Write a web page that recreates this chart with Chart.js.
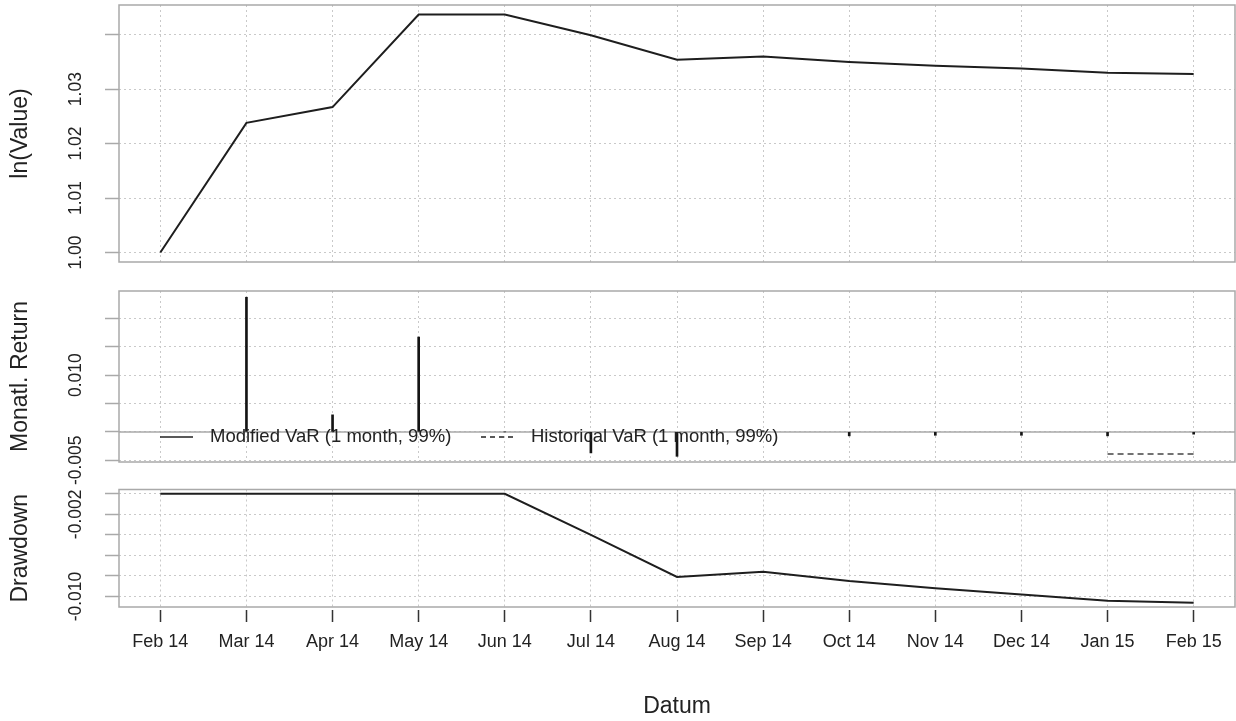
<!DOCTYPE html>
<html>
<head>
<meta charset="utf-8">
<script src="https://cdn.jsdelivr.net/npm/chart.js@4/dist/chart.umd.min.js"></script>
<style>
  html, body { margin: 0; padding: 0; background: #fff; }
  #wrap { position: relative; width: 1236px; height: 721px; overflow: hidden; background: #fff; }
  canvas { position: absolute; left: 0; }
</style>
</head>
<body>
<div id="wrap">
  <canvas id="cValue" width="1236" height="272" style="top:0px"></canvas>
  <canvas id="cReturn" width="1236" height="234" style="top:266px"></canvas>
  <canvas id="cDrawdown" width="1236" height="251" style="top:470px"></canvas>
</div>
<script>
// ---- data ----
const months = ['Feb 14', 'Mar 14', 'Apr 14', 'May 14', 'Jun 14', 'Jul 14', 'Aug 14',
                'Sep 14', 'Oct 14', 'Nov 14', 'Dec 14', 'Jan 15', 'Feb 15'];

const cumValue = [1.0000, 1.0238, 1.0267, 1.0437, 1.0437, 1.0399, 1.0354,
                  1.0360, 1.0350, 1.0343, 1.0338, 1.0330, 1.0328];

const monthlyReturn = [null, 0.0237, 0.0030, 0.0167, 0.0000, -0.0037, -0.0043,
                       0.0002, -0.0007, -0.0006, -0.0006, -0.0007, -0.0004];

const modifiedVaR = [null, null, null, null, null, null, null,
                     null, null, null, null, null, null];

const historicalVaR = [null, null, null, null, null, null, null,
                       null, null, null, null, -0.0039, -0.0039];

const drawdown = [0, 0, 0, 0, 0, -0.0040, -0.0081,
                  -0.0076, -0.0085, -0.0092, -0.0098, -0.0104, -0.0106];

const valueTicks = [1.00, 1.01, 1.02, 1.03, 1.04];
const valueTickLabels = ['1.00', '1.01', '1.02', '1.03', ''];

const returnTicks = [-0.005, 0.000, 0.005, 0.010, 0.015, 0.020];
const returnTickLabels = ['-0.005', '', '', '0.010', '', ''];

const drawdownTicks = [-0.010, -0.008, -0.006, -0.004, -0.002, 0.000];
const drawdownTickLabels = ['-0.010', '', '', '', '-0.002', ''];

// ---- styling ----
const FONT = '"Liberation Sans", Arial, Helvetica, sans-serif';
const TEXT = '#222222';
const FRAME = '#a9a9a9';
const GRID = '#c9c9c9';

const toPoints = arr => arr.map((v, i) => ({ x: i, y: v }));

function xAxis(withLabels) {
  return {
    type: 'linear',
    offset: false,
    min: -0.48,
    max: 12.48,
    afterBuildTicks: s => { s.ticks = months.map((m, i) => ({ value: i })); },
    afterFit: s => { s.height = withLabels ? 114 : 0; },
    grid: {
      offset: false,
      color: GRID, lineWidth: 1,
      drawTicks: withLabels, tickLength: 15,
      tickColor: '#333333', tickWidth: 1.5,
      tickBorderDash: [0, 3, 12, 1000]
    },
    border: { display: false, dash: [2, 3] },
    ticks: {
      display: withLabels, autoSkip: false, maxRotation: 0, minRotation: 0,
      padding: 9, color: TEXT,
      font: { family: FONT, size: 18 },
      callback: v => months[v]
    },
    title: withLabels
      ? { display: true, text: 'Datum', color: TEXT, font: { family: FONT, size: 23 }, padding: { top: 0, bottom: 1 } }
      : { display: false }
  };
}

function yAxis(min, max, ticks) {
  return {
    type: 'linear',
    min: min,
    max: max,
    afterBuildTicks: s => { s.ticks = ticks.map(v => ({ value: v })); },
    afterFit: s => { s.width = 119; },
    grid: {
      color: GRID, lineWidth: 1,
      drawTicks: true, tickLength: 14,
      tickColor: FRAME, tickWidth: 1.5
    },
    border: { display: false, dash: [2, 3] },
    ticks: { display: false }
  };
}

// frame, rotated y labels, axis title, zero line and legend of each panel
const panelDecor = {
  id: 'panelDecor',
  beforeDatasetsDraw(chart, args, opts) {
    if (!opts.zeroLine) return;
    const { ctx, chartArea: a } = chart;
    const y = chart.scales.y.getPixelForValue(0);
    ctx.save();
    ctx.strokeStyle = FRAME;
    ctx.lineWidth = 1.5;
    ctx.beginPath();
    ctx.moveTo(a.left, y);
    ctx.lineTo(a.right, y);
    ctx.stroke();
    ctx.restore();
  },
  afterDraw(chart, args, opts) {
    const { ctx, chartArea: a } = chart;
    const ys = chart.scales.y;
    ctx.save();
    // box
    ctx.strokeStyle = FRAME;
    ctx.lineWidth = 1.5;
    ctx.strokeRect(a.left, a.top, a.right - a.left, a.bottom - a.top);

    // y tick labels (rotated)
    ctx.fillStyle = TEXT;
    ctx.font = '17.5px ' + FONT;
    ctx.textAlign = 'center';
    ctx.textBaseline = 'middle';
    opts.tickValues.forEach((v, i) => {
      const txt = opts.tickLabels[i];
      if (!txt) return;
      const y = ys.getPixelForValue(v);
      ctx.save();
      ctx.translate(76, y);
      ctx.rotate(-Math.PI / 2);
      ctx.fillText(txt, 0, 0);
      ctx.restore();
    });

    // y axis title
    ctx.font = '23px ' + FONT;
    ctx.save();
    ctx.translate(21, (a.top + a.bottom) / 2);
    ctx.rotate(-Math.PI / 2);
    ctx.fillText(opts.title, 0, 0);
    ctx.restore();

    // legend inside the panel
    if (opts.legend) {
      const ly = a.top + 146;
      ctx.font = '18.5px ' + FONT;
      ctx.textAlign = 'left';
      ctx.strokeStyle = '#222222';
      ctx.lineWidth = 1.5;
      opts.legend.forEach(item => {
        ctx.setLineDash(item.dash);
        ctx.beginPath();
        ctx.moveTo(item.x, ly);
        ctx.lineTo(item.x + 33, ly);
        ctx.stroke();
        ctx.setLineDash([]);
        ctx.fillText(item.label, item.x + 50, ly);
      });
    }
    ctx.restore();
  }
};

const common = {
  responsive: false,
  animation: false,
  devicePixelRatio: 1,
  events: [],
  plugins: { legend: { display: false }, tooltip: { enabled: false } }
};

// ---- panel 1: cumulative value ----
new Chart(document.getElementById('cValue'), {
  type: 'line',
  data: {
    datasets: [{
      label: 'ln(Value)',
      data: toPoints(cumValue),
      borderColor: '#1e1e1e', borderWidth: 2, pointRadius: 0, tension: 0
    }]
  },
  options: Object.assign({}, common, {
    layout: { padding: { top: 5, bottom: 10, left: 0, right: 1 } },
    scales: { x: xAxis(false), y: yAxis(0.99825, 1.04545, valueTicks) },
    plugins: Object.assign({}, common.plugins, {
      panelDecor: { title: 'ln(Value)', tickValues: valueTicks, tickLabels: valueTickLabels }
    })
  }),
  plugins: [panelDecor]
});

// ---- panel 2: monthly returns with VaR lines ----
new Chart(document.getElementById('cReturn'), {
  type: 'bar',
  data: {
    datasets: [
      {
        type: 'bar', label: 'Monatl. Return',
        data: toPoints(monthlyReturn),
        backgroundColor: '#141414', borderWidth: 0, barThickness: 2, grouped: false
      },
      {
        type: 'line', label: 'Modified VaR (1 month, 99%)',
        data: toPoints(modifiedVaR),
        borderColor: '#222222', borderWidth: 1.5, pointRadius: 0, tension: 0
      },
      {
        type: 'line', label: 'Historical VaR (1 month, 99%)',
        data: toPoints(historicalVaR),
        borderColor: '#444444', borderWidth: 1.5, borderDash: [6, 4], pointRadius: 0, tension: 0
      }
    ]
  },
  options: Object.assign({}, common, {
    layout: { padding: { top: 25, bottom: 38, left: 0, right: 1 } },
    scales: { x: xAxis(false), y: yAxis(-0.0053, 0.0248, returnTicks) },
    plugins: Object.assign({}, common.plugins, {
      panelDecor: {
        title: 'Monatl. Return', tickValues: returnTicks, tickLabels: returnTickLabels,
        zeroLine: true,
        legend: [
          { x: 160, dash: [], label: 'Modified VaR (1 month, 99%)' },
          { x: 481, dash: [5, 4], label: 'Historical VaR (1 month, 99%)' }
        ]
      }
    })
  }),
  plugins: [panelDecor]
});

// ---- panel 3: drawdown ----
new Chart(document.getElementById('cDrawdown'), {
  type: 'line',
  data: {
    datasets: [{
      label: 'Drawdown',
      data: toPoints(drawdown),
      borderColor: '#1e1e1e', borderWidth: 2, pointRadius: 0, tension: 0
    }]
  },
  options: Object.assign({}, common, {
    layout: { padding: { top: 19.5, bottom: 0, left: 0, right: 1 } },
    scales: { x: xAxis(true), y: yAxis(-0.01102, 0.00042, drawdownTicks) },
    plugins: Object.assign({}, common.plugins, {
      panelDecor: { title: 'Drawdown', tickValues: drawdownTicks, tickLabels: drawdownTickLabels }
    })
  }),
  plugins: [panelDecor]
});
</script>
</body>
</html>
